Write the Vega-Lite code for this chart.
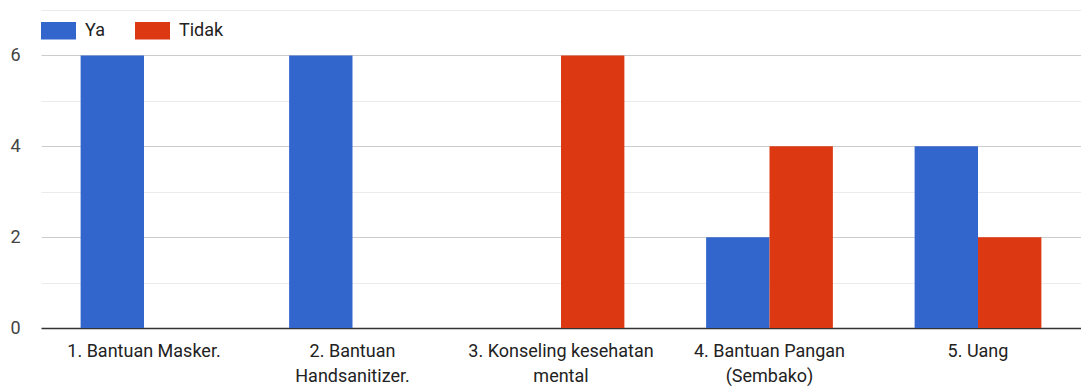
{
  "$schema": "https://vega.github.io/schema/vega-lite/v6.json",
  "autosize": {"type": "none"},
  "padding": {"left": 41, "top": 10, "right": 0, "bottom": 64},
  "width": 1040,
  "height": 318,
  "background": "#ffffff",
  "config": {
    "font": "Roboto",
    "view": {"stroke": null},
    "axis": {"labelFont": "Roboto", "labelFontSize": 18}
  },
  "data": {
    "values": [
      {"kategori": "1. Bantuan Masker.", "jawaban": "Ya", "jumlah": 6},
      {"kategori": "1. Bantuan Masker.", "jawaban": "Tidak", "jumlah": 0},
      {"kategori": "2. Bantuan Handsanitizer.", "jawaban": "Ya", "jumlah": 6},
      {"kategori": "2. Bantuan Handsanitizer.", "jawaban": "Tidak", "jumlah": 0},
      {"kategori": "3. Konseling kesehatan mental", "jawaban": "Ya", "jumlah": 0},
      {"kategori": "3. Konseling kesehatan mental", "jawaban": "Tidak", "jumlah": 6},
      {"kategori": "4. Bantuan Pangan (Sembako)", "jawaban": "Ya", "jumlah": 2},
      {"kategori": "4. Bantuan Pangan (Sembako)", "jawaban": "Tidak", "jumlah": 4},
      {"kategori": "5. Uang", "jawaban": "Ya", "jumlah": 4},
      {"kategori": "5. Uang", "jawaban": "Tidak", "jumlah": 2}
    ]
  },
  "mark": {"type": "bar"},
  "encoding": {
    "x": {
      "field": "kategori",
      "type": "nominal",
      "sort": null,
      "scale": {"paddingInner": 0.392, "paddingOuter": 0.19},
      "axis": {
        "title": null,
        "labelAngle": 0,
        "domain": false,
        "ticks": false,
        "labelPadding": 14,
        "labelColor": "#222222",
        "labelLineHeight": 25,
        "labelLimit": 300,
        "labelExpr": "datum.value == '2. Bantuan Handsanitizer.' ? ['2. Bantuan', 'Handsanitizer.'] : datum.value == '3. Konseling kesehatan mental' ? ['3. Konseling kesehatan', 'mental'] : datum.value == '4. Bantuan Pangan (Sembako)' ? ['4. Bantuan Pangan', '(Sembako)'] : datum.value"
      }
    },
    "xOffset": {"field": "jawaban", "type": "nominal", "sort": ["Ya", "Tidak"]},
    "y": {
      "field": "jumlah",
      "type": "quantitative",
      "scale": {"domain": [0, 7], "nice": false},
      "axis": {
        "title": null,
        "values": [0, 1, 2, 3, 4, 5, 6, 7],
        "labelExpr": "datum.value % 2 == 0 && datum.value < 7 ? datum.value : ''",
        "domain": false,
        "ticks": false,
        "labelPadding": 21,
        "labelColor": "#444444",
        "gridColor": {"condition": [{"test": "datum.value == 0", "value": "#333333"}, {"test": "datum.value % 2 == 0", "value": "#cccccc"}], "value": "#ebebeb"},
        "gridWidth": {"condition": {"test": "datum.value == 0", "value": 1.5}, "value": 1}
      }
    },
    "color": {
      "field": "jawaban",
      "type": "nominal",
      "sort": ["Ya", "Tidak"],
      "scale": {"domain": ["Ya", "Tidak"], "range": ["#3366cc", "#dc3912"]},
      "legend": {
        "title": null,
        "orient": "none",
        "legendX": 0,
        "legendY": 3,
        "direction": "horizontal",
        "symbolType": "M-1,-0.5H1V0.5H-1Z",
        "symbolSize": 1225,
        "symbolStrokeWidth": 0,
        "symbolOpacity": 1,
        "labelFont": "Roboto",
        "labelFontSize": 18,
        "labelColor": "#222222",
        "labelOffset": 9,
        "columnPadding": 30
      }
    }
  }
}
